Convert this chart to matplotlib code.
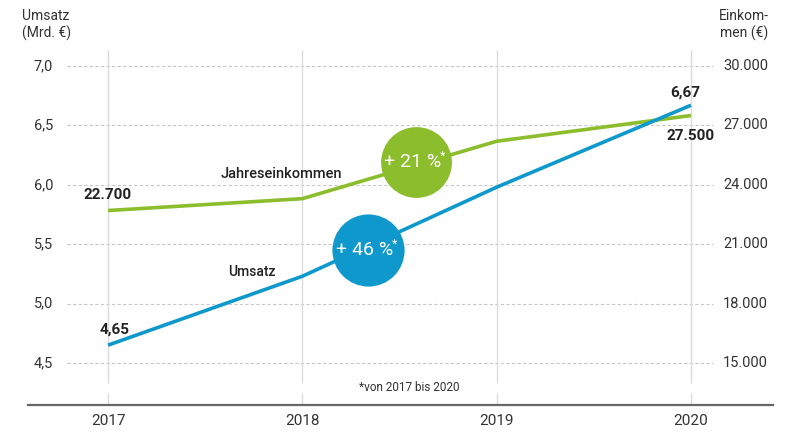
import matplotlib.pyplot as plt

plt.rcParams['font.family'] = ['Roboto', 'DejaVu Sans']

years = [2017, 2018, 2019, 2020]
umsatz = [4.65, 5.23, 5.98, 6.67]            # Mrd. EUR
einkommen = [22700, 23300, 26200, 27500]     # EUR
left_ticks = [4.5, 5.0, 5.5, 6.0, 6.5, 7.0]
left_labels = ['4,5', '5,0', '5,5', '6,0', '6,5', '7,0']
right_ticks = [15000, 18000, 21000, 24000, 27000, 30000]
right_labels = ['15.000', '18.000', '21.000', '24.000', '27.000', '30.000']

GREEN = '#8cbd2c'
BLUE = '#0e98cc'
TXT = '#222222'


def eur_to_left(v):
    # right axis 15.000..30.000 shares the space of 4,5..7,0
    return 4.5 + (v - 15000) / 6000.0


fig = plt.figure(figsize=(8, 4.47), dpi=100)
ax = fig.add_axes([28 / 800, 42 / 447, 745 / 800, 355 / 447])
ax.set_xlim(2016.588, 2020.422)
ax.set_ylim(4.146, 7.135)
ax.axis('off')

# grid
ax.hlines(left_ticks, 2016.79, 2020.113, colors='#c8c8c8', linestyles=(0, (3, 2)), lw=0.8)
for yr in years:
    ax.vlines(yr, 4.33, 7.135, colors='#dcdcdc', lw=1.0)
    ax.vlines(yr, 4.146, 4.25, colors='#dcdcdc', lw=1.0)
ax.axhline(4.146, xmin=0, xmax=1, color='#666666', lw=1.6, clip_on=False)

# axis labels
for t, lab in zip(left_ticks, left_labels):
    ax.text((53 - 28) / 745, t, lab, transform=ax.get_yaxis_transform(),
            ha='right', va='center', fontsize=10.5, color='#333333')
for t, lab in zip(right_ticks, right_labels):
    ax.text((723 - 28) / 745, eur_to_left(t), lab, transform=ax.get_yaxis_transform(),
            ha='left', va='center', fontsize=10.5, color='#333333')
for yr in years:
    ax.text(yr, -0.045, str(yr), transform=ax.get_xaxis_transform(),
            ha='center', va='center', fontsize=11, color='#333333')

fig.text(22 / 800, 1 - 25 / 447, 'Umsatz\n(Mrd. €)', ha='left', va='center',
         fontsize=10, color='#333333', linespacing=1.3)
fig.text(744 / 800, 1 - 25 / 447, 'Einkom-\nmen (€)', ha='center', va='center',
         fontsize=10, color='#333333', linespacing=1.3)

# lines
ein_left = [eur_to_left(v) for v in einkommen]
ax.plot(years, ein_left, color=GREEN, lw=2.6, solid_capstyle='butt', zorder=3)
ax.plot(years, umsatz, color=BLUE, lw=2.6, solid_capstyle='butt', zorder=4)

# value labels
ax.annotate('22.700', (years[0], ein_left[0]), xytext=(0, 6), textcoords='offset points',
            ha='center', va='bottom', fontsize=11, fontweight='bold', color=TXT)
ax.annotate('4,65', (years[0], umsatz[0]), xytext=(5, 6), textcoords='offset points',
            ha='center', va='bottom', fontsize=11, fontweight='bold', color=TXT)
ax.annotate('6,67', (years[-1], umsatz[-1]), xytext=(-4, 4), textcoords='offset points',
            ha='center', va='bottom', fontsize=11, fontweight='bold', color=TXT)
ax.annotate('27.500', (years[-1], ein_left[-1]), xytext=(0, -10), textcoords='offset points',
            ha='center', va='top', fontsize=11, fontweight='bold', color=TXT)

ax.text(2017.89, 6.09, 'Jahreseinkommen', ha='center', va='center', fontsize=10.5,
        fontweight='medium', color=TXT)
ax.text(2017.74, 5.266, 'Umsatz', ha='center', va='center', fontsize=10,
        fontweight='medium', color=TXT)

# growth bubbles
ax.scatter([2018.585], [6.192], s=2600, color=GREEN, zorder=5, linewidths=0)
ax.scatter([2018.338], [5.451], s=2700, color=BLUE, zorder=5, linewidths=0)
for x, y, lab in [(2018.585, 6.192, '+ 21 %'), (2018.338, 5.451, '+ 46 %')]:
    ax.text(x - 0.02, y, lab, ha='center', va='center', fontsize=14, color='white', zorder=6)
    ax.annotate('*', (x, y), xytext=(19, 4), textcoords='offset points',
                ha='center', va='center', fontsize=9, color='white', zorder=6)

ax.text(2018.55, 4.296, '*von 2017 bis 2020', ha='center', va='center',
        fontsize=8.5, color='#333333')

fig.savefig('out.png', dpi=100)
